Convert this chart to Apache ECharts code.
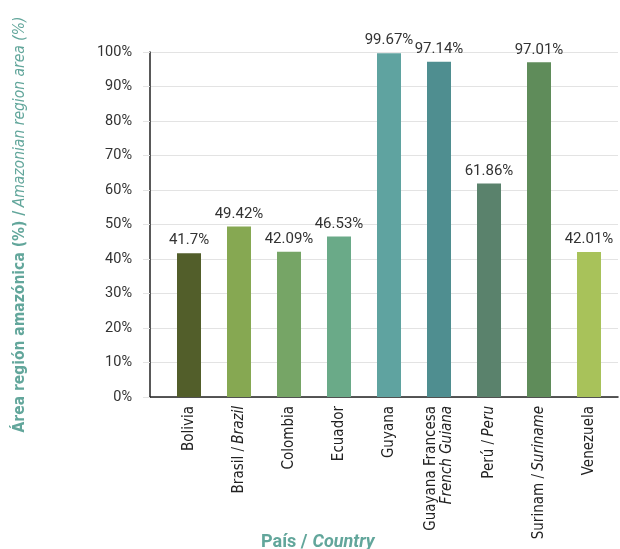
<!DOCTYPE html>
<html>
<head>
<meta charset="utf-8">
<script src="https://cdn.jsdelivr.net/npm/echarts@6/dist/echarts.min.js"></script>
<style>
  html, body { margin: 0; padding: 0; background: #fff; }
  #areaBar { width: 620px; height: 549px; }
</style>
</head>
<body>
<div id="areaBar"></div>
<script>
// país / country
const countries = ["Bolivia", "Brasil|Brazil", "Colombia", "Ecuador", "Guyana",
  "Guayana Francesa|French Guiana", "Perú|Peru", "Surinam|Suriname", "Venezuela"];
// área región amazónica (%)
const areaPct = [41.7, 49.42, 42.09, 46.53, 99.67, 97.14, 61.86, 97.01, 42.01];
const barColors = ["#525e2a", "#86a852", "#76a566", "#6aaa88", "#5fa3a0",
  "#4f8e90", "#5a826c", "#5f8c5a", "#a8c25a"];

const teal = "#62a69b";
const narrow = "'Liberation Sans Narrow', 'DejaVu Sans Condensed', sans-serif";

const chart = echarts.init(document.getElementById("areaBar"));

const option = {
  animation: false,
  title: {
    text: "{b|País /} {i|Country}",
    left: 256,
    bottom: -7,
    textStyle: {
      rich: {
        b: { fontFamily: "Roboto", fontWeight: "bold", fontSize: 18, color: teal },
        i: { fontFamily: "Roboto", fontStyle: "italic", fontSize: 18, color: teal }
      }
    }
  },
  grid: [
    // frame: y axis, gridlines, base line
    { left: 150, right: 2, top: 52, bottom: 152, outerBoundsMode: "none", containLabel: false },
    // bars
    { left: 164, right: 6, top: 52, bottom: 152, outerBoundsMode: "none", containLabel: false }
  ],
  xAxis: [
    {
      gridIndex: 0,
      type: "category",
      data: [""],
      axisLine: { lineStyle: { color: "#222", width: 1.5 } },
      axisTick: { show: false },
      axisLabel: { show: false }
    },
    {
      gridIndex: 1,
      type: "category",
      data: countries,
      axisLine: { show: false },
      axisTick: { show: false },
      axisLabel: {
        rotate: 90,
        margin: 9,
        interval: 0,
        formatter: function (v) {
          const p = v.split("|");
          if (p.length === 1) return "{r|" + p[0] + "}";
          if (p[0] === "Guayana Francesa") return "{r|" + p[0] + "}\n{i|" + p[1] + "}";
          return "{r|" + p[0] + " /} {i|" + p[1] + "}";
        },
        rich: {
          r: { fontFamily: narrow, fontSize: 15, color: "#222", lineHeight: 16 },
          i: { fontFamily: narrow, fontStyle: "italic", fontSize: 15, color: "#222", lineHeight: 16 }
        }
      }
    }
  ],
  yAxis: [
    {
      gridIndex: 0,
      type: "value",
      min: 0,
      max: 100,
      interval: 10,
      name: "{b|Área región amazónica (%) /} {i|Amazonian region area (%)}",
      nameLocation: "middle",
      nameRotate: 90,
      nameGap: 122,
      nameTextStyle: {
        rich: {
          b: { fontFamily: narrow, fontWeight: "bold", fontSize: 15.5, color: teal },
          i: { fontFamily: narrow, fontStyle: "italic", fontSize: 15.5, color: teal }
        }
      },
      axisLine: { show: true, lineStyle: { color: "#222", width: 1.5 } },
      axisTick: { show: true, inside: false, length: 7, lineStyle: { color: "#e3e3e3" } },
      axisLabel: {
        margin: 18,
        fontFamily: "Roboto",
        fontSize: 14.5,
        color: "#333",
        formatter: "{value}%"
      },
      splitLine: { lineStyle: { color: "#e3e3e3", width: 1 } }
    },
    {
      gridIndex: 1,
      type: "value",
      min: 0,
      max: 100,
      interval: 10,
      show: false,
      splitLine: { show: false }
    }
  ],
  series: [
    {
      type: "bar",
      xAxisIndex: 1,
      yAxisIndex: 1,
      barWidth: 24,
      data: areaPct.map(function (v, i) {
        return { value: v, itemStyle: { color: barColors[i] } };
      }),
      label: {
        show: true,
        position: "top",
        distance: 5,
        fontFamily: "Roboto",
        fontSize: 15,
        color: "#333",
        formatter: function (p) { return p.value + "%"; }
      }
    }
  ]
};

chart.setOption(option);
</script>
</body>
</html>
